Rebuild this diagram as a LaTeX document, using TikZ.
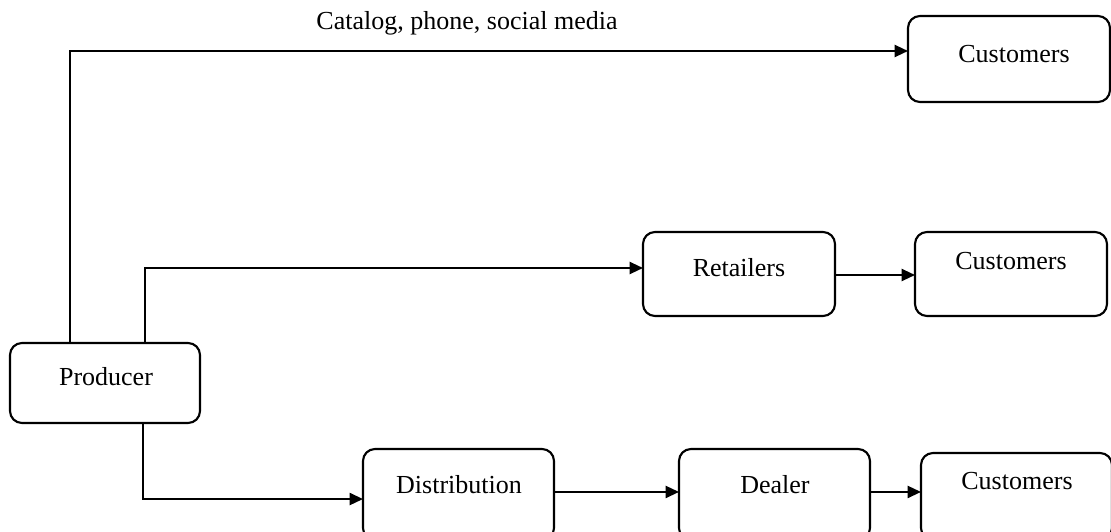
\documentclass[tikz,border=0pt]{standalone}
\usepackage{fontspec}
\setmainfont{Liberation Serif}
\usetikzlibrary{arrows.meta}
\begin{document}
\begin{tikzpicture}[x=0.75pt,y=-0.75pt,
  box/.style={draw,line width=1.6pt,rounded corners=9pt,inner sep=0pt,outer sep=0pt},
  lbl/.style={font=\fontsize{19.5pt}{22pt}\selectfont,inner sep=0pt},
  flow/.style={line width=1.6pt,-{Triangle[length=10pt,width=9pt]}}]
\useasboundingbox (0,0) rectangle (1111,532);
\clip (0,0) rectangle (1111,532);
% boxes (sizes in pt: 1 unit = 0.75pt)
\node[box,minimum width=142.5pt,minimum height=60pt]   (prod)  at (105,383)      {};
\node[box,minimum width=151.5pt,minimum height=64.5pt] (custA) at (1009,59)      {};
\node[box,minimum width=144pt,minimum height=63pt]     (ret)   at (739,274)      {};
\node[box,minimum width=144pt,minimum height=63pt]     (custB) at (1011,274)     {};
\node[box,minimum width=143.25pt,minimum height=68.25pt] (dist) at (458.5,494.5) {};
\node[box,minimum width=143.25pt,minimum height=68.25pt] (deal) at (774.5,494.5) {};
\node[box,minimum width=143.25pt,minimum height=65.25pt] (custC) at (1016.5,496.5) {};
% texts
\node[lbl] (tProd)  at (106,377)  {Producer};
\node[lbl] (tCustA) at (1014,54)  {Customers};
\node[lbl] (tRet)   at (739,268)  {Retailers};
\node[lbl] (tCustB) at (1011,261) {Customers};
\node[lbl] (tDist)  at (459,485)  {Distribution};
\node[lbl] (tDeal)  at (775,485)  {Dealer};
\node[lbl] (tCustC) at (1017,481) {Customers};
\node[lbl] (tCat)   at (467,23)   {Catalog, phone, social media};
% connectors
\draw[flow] ([xshift=45pt]prod.north west) |- ([yshift=6pt]custA.west);
\draw[flow] ([xshift=101.25pt]prod.north west) |- ([yshift=4.5pt]ret.west);
\draw[flow] ([yshift=-0.75pt]ret.east) -- ([yshift=-0.75pt]custB.west);
\draw[flow] ([xshift=99.75pt]prod.south west) |- ([yshift=-3.4pt]dist.west);
\draw[flow] ([yshift=1.9pt]dist.east) -- ([yshift=1.9pt]deal.west);
\draw[flow] ([yshift=1.9pt]deal.east) -- ([yshift=3.4pt]custC.west);
\end{tikzpicture}
\end{document}
